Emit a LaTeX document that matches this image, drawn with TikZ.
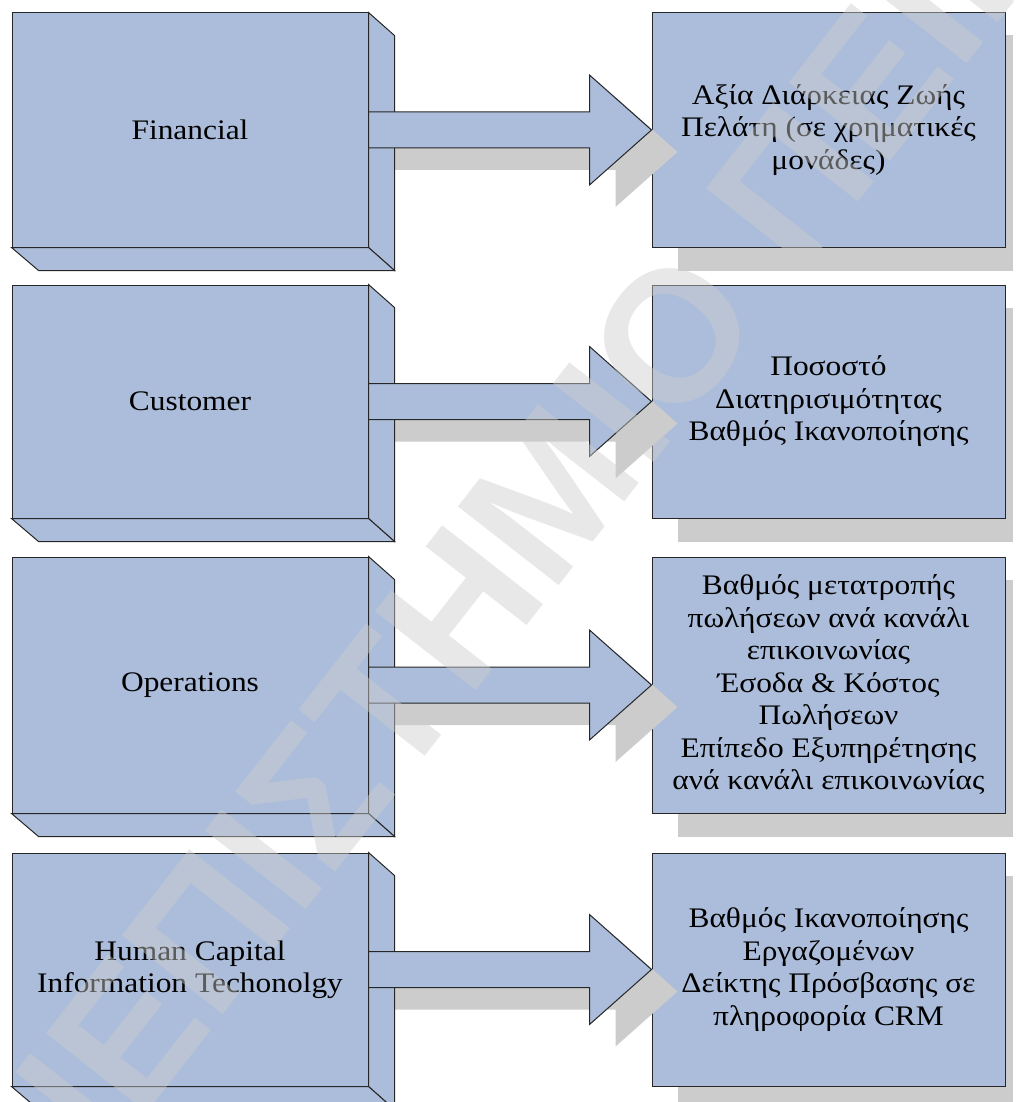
\documentclass[tikz,border=0pt]{standalone}
\usepackage{fontspec}
\setmainfont[FakeStretch=1.11]{Liberation Serif}
\newfontfamily\wmfont{Liberation Sans Bold}
\usetikzlibrary{calc}
\definecolor{boxblue}{RGB}{171,189,218}
\definecolor{shadowgray}{RGB}{204,204,204}
\definecolor{wmgray}{RGB}{205,205,205}
\pgfdeclarelayer{shadows}
\pgfdeclarelayer{boxes}
\pgfdeclarelayer{arrowshadows}
\pgfdeclarelayer{arrows}
\pgfdeclarelayer{mark}
\pgfsetlayers{shadows,boxes,arrowshadows,main,arrows,mark}
\begin{document}
\begin{tikzpicture}[x=1pt,y=-1pt,
  face/.style={fill=boxblue,draw=black!85,line width=1pt,line join=miter},
  shade/.style={fill=shadowgray,draw=none},
  lbl/.style={font=\fontsize{28.3}{32.5}\selectfont,align=center,inner sep=0pt},
  frontbox/.style={face,lbl,minimum width=356pt,inner sep=0pt},
  goalbox/.style={face,lbl,minimum width=353pt,inner sep=0pt},
  wmtext/.style={font=\wmfont\fontsize{186}{186}\selectfont,text=wmgray,
    opacity=0.45,inner sep=0pt,rotate=52}]
\useasboundingbox (0,0) rectangle (1018,1102);

% ---- perspective blocks (left column) ----
\node[frontbox,minimum height=234pt] (fin) at (190,130) {Financial};
\node[frontbox,minimum height=233pt] (cus) at (190,401.5) {Customer};
\node[frontbox,minimum height=256pt] (ops) at (190,685) {Operations};
\node[frontbox,minimum height=233pt] (hum) at (190,969.5) {Human Capital\\Information Techonolgy};

% side and bottom faces of the blocks
\foreach \b in {fin,cus,ops,hum}{
  \draw[face] (\b.north east) -- ++(26,23) -- ($(\b.south east)+(26,23)$)
    -- (\b.south east) -- cycle;
  \draw[face] (\b.south west) -- ++(27,23) -- ($(\b.south east)+(26,23)$)
    -- (\b.south east) -- cycle;
}

% ---- measures (right column) ----
\begin{pgfonlayer}{boxes}
\node[goalbox,minimum height=234pt] (clv) at (828.5,130)
  {Αξία Διάρκειας Ζωής\\Πελάτη (σε χρηματικές\\μονάδες)};
\node[goalbox,minimum height=233pt] (ret) at (828.5,401.5)
  {Ποσοστό\\Διατηρισιμότητας\\Βαθμός Ικανοποίησης};
\node[goalbox,minimum height=256pt] (sal) at (828.5,685)
  {Βαθμός μετατροπής\\πωλήσεων ανά κανάλι\\επικοινωνίας\\Έσοδα \& Κόστος\\Πωλήσεων\\Επίπεδο Εξυπηρέτησης\\ανά κανάλι επικοινωνίας};
\node[goalbox,minimum height=233pt] (emp) at (828.5,969.5)
  {Βαθμός Ικανοποίησης\\Εργαζομένων\\Δείκτης Πρόσβασης σε\\πληροφορία CRM};
\end{pgfonlayer}

% drop shadows of the measure boxes
\begin{pgfonlayer}{shadows}
\foreach \g in {clv,ret,sal,emp}{
  \fill[shade] ($(\g.north west)+(26,23)$) rectangle ($(\g.south east)+(7,23)$);
}
\end{pgfonlayer}

% ---- block arrows from each perspective to its measures ----
\foreach \s/\t in {fin/clv,cus/ret,ops/sal,hum/emp}{
  \begin{pgfonlayer}{arrowshadows}
  \fill[shade] ($(\s.east)+(26,4)$) -- ($(\t.west)+(-36,4)$)
    -- ($(\t.west)+(-36,-33)$) -- ($(\t.west)+(26,22)$) -- ($(\t.west)+(-36,77)$)
    -- ($(\t.west)+(-36,40)$) -- ($(\s.east)+(26,40)$) -- cycle;
  \end{pgfonlayer}
  \begin{pgfonlayer}{arrows}
  \draw[face] ($(\s.east)+(0,-18)$) -- ($(\t.west)+(-62,-18)$)
    -- ($(\t.west)+(-62,-55)$) -- (\t.west) -- ($(\t.west)+(-62,55)$)
    -- ($(\t.west)+(-62,18)$) -- ($(\s.east)+(0,18)$) -- cycle;
  \end{pgfonlayer}
}

% ---- diagonal watermark ----
\begin{pgfonlayer}{mark}
\coordinate (wmpt) at (768,318);
\node[wmtext,anchor=base east] (wmleft) at (wmpt) {ΠΑΝΕΠΙΣΤΗΜΙΟ};
\node[wmtext,anchor=base west] (wmright) at (wmpt) {\ ΠΕΙΡΑΙΩΣ};
\end{pgfonlayer}
\end{tikzpicture}
\end{document}
